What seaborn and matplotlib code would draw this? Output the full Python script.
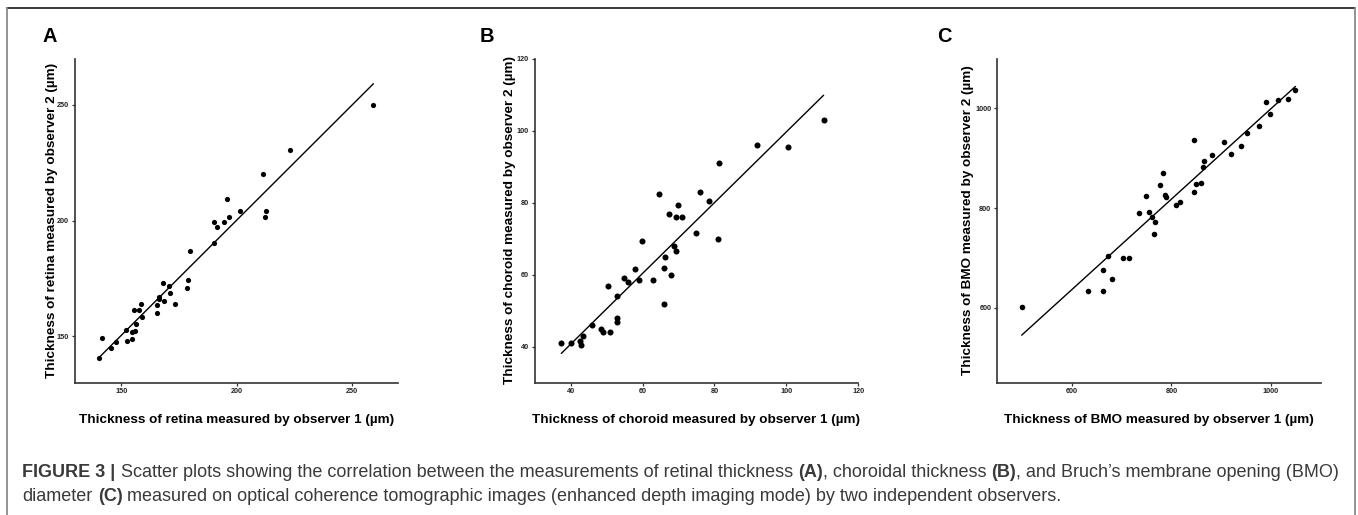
import numpy as np
import matplotlib
matplotlib.use("Agg")
import matplotlib.pyplot as plt
from matplotlib.lines import Line2D
import seaborn as sns

# ---------------- data ----------------
retina_obs1 = [140.6, 141.6, 145.5, 147.6, 152.2, 152.6, 154.6, 154.6, 156.1, 155.6,
               157.5, 156.5, 158.6, 159.1, 165.4, 165.6, 166.4, 166.4, 168.4, 168.0,
               170.6, 171.2, 173.5, 178.7, 179.1, 179.7, 190.1, 190.2, 191.6, 194.7,
               196.7, 195.7, 201.6, 211.5, 212.1, 212.5, 223.1, 259.2]
retina_obs2 = [140.8, 149.3, 144.8, 147.4, 152.7, 147.8, 151.9, 148.7, 152.3, 161.2,
               161.2, 155.3, 163.8, 158.4, 163.3, 160.2, 167.1, 165.9, 165.1, 172.8,
               171.8, 168.7, 163.8, 170.9, 174.4, 186.7, 190.3, 199.3, 197.3, 199.3,
               201.7, 209.2, 204.3, 220.3, 201.3, 204.3, 230.4, 249.9]

choroid_obs1 = [37.4, 40.0, 42.5, 43.0, 43.4, 45.9, 48.4, 48.9, 50.9, 50.5,
                53.0, 53.0, 53.0, 54.9, 55.9, 58.0, 59.0, 59.9, 63.0, 64.5,
                66.0, 66.0, 66.4, 67.4, 67.9, 68.9, 69.4, 69.4, 69.9, 70.9,
                74.9, 76.0, 78.5, 81.0, 81.4, 91.9, 100.4, 110.4]
choroid_obs2 = [40.9, 40.9, 41.5, 40.5, 43.0, 46.0, 45.0, 44.0, 44.0, 56.9,
                54.0, 48.0, 46.9, 59.0, 58.0, 61.5, 58.4, 69.4, 58.4, 82.4,
                61.9, 51.9, 64.9, 76.9, 60.0, 68.0, 75.9, 66.5, 79.4, 75.9,
                71.5, 83.0, 80.5, 70.0, 90.9, 95.9, 95.5, 103.0]

bmo_obs1 = [499.0, 631.6, 662.6, 662.6, 672.1, 680.8, 701.7, 714.5, 734.0, 748.8,
            755.6, 761.6, 764.3, 767.7, 777.1, 783.8, 787.9, 789.9, 810.1, 816.8,
            844.4, 844.4, 849.8, 859.3, 863.3, 864.6, 881.5, 906.4, 919.9, 940.7,
            951.5, 975.8, 989.9, 997.3, 1014.8, 1034.3, 1049.2]
bmo_obs2 = [602.0, 634.2, 675.8, 634.2, 703.4, 658.4, 700.7, 700.7, 789.9, 823.5,
            792.0, 781.2, 748.3, 771.8, 846.3, 870.5, 826.8, 822.1, 806.0, 812.8,
            936.9, 832.2, 848.3, 851.0, 882.6, 894.6, 907.4, 932.9, 908.1, 924.8,
            950.3, 963.8, 1012.1, 988.6, 1016.1, 1018.8, 1037.6]

panel_letters = ["A", "B", "C"]
x_labels = ["Thickness of retina measured by observer 1 (\u00b5m)",
            "Thickness of choroid measured by observer 1 (\u00b5m)",
            "Thickness of BMO measured by observer 1 (\u00b5m)"]
y_labels = ["Thickness of retina measured by observer 2 (\u00b5m)",
            "Thickness of choroid measured by observer 2 (\u00b5m)",
            "Thickness of BMO measured by observer 2 (\u00b5m)"]
x_ticks = [[150, 200, 250], [40, 60, 80, 100, 120], [600, 800, 1000]]
y_ticks = [[150, 200, 250], [40, 60, 80, 100, 120], [600, 800, 1000]]
limits = [(130, 270), (30, 120), (450, 1100)]

# ---------------- style ----------------
sns.set_style("ticks")
plt.rcParams["font.family"] = ["Liberation Sans", "DejaVu Sans"]

W, H = 1358, 515
fig = plt.figure(figsize=(W / 100, H / 100), dpi=100)
fig.patch.set_facecolor("white")

ax_left_px = [75, 534.7, 997.3]
ax_w_px = 323.4
ax_top_px = 58.5
ax_bot_px = 382.5
letter_x_px = [42.7, 480, 937]
ylab_off_px = [20, 21.4, 26.3]
marker_s = [14, 19, 16]

datasets = [(retina_obs1, retina_obs2), (choroid_obs1, choroid_obs2), (bmo_obs1, bmo_obs2)]
spine_col = "#333333"

for i, (xs, ys) in enumerate(datasets):
    ax = fig.add_axes([ax_left_px[i] / W, 1 - ax_bot_px / H, ax_w_px / W, (ax_bot_px - ax_top_px) / H])
    sns.regplot(x=np.array(xs), y=np.array(ys), ax=ax, ci=None, color="black",
                scatter_kws={"s": marker_s[i], "linewidths": 0, "alpha": 1},
                line_kws={"lw": 1.0, "color": "black"})
    ax.set_xlim(*limits[i])
    ax.set_ylim(*limits[i])
    ax.set_xticks(x_ticks[i])
    ax.set_yticks(y_ticks[i])
    sns.despine(ax=ax)
    for s in ["left", "bottom"]:
        ax.spines[s].set_linewidth(1.2)
        ax.spines[s].set_color(spine_col)
    ax.tick_params(labelsize=5.2, length=2.5, width=0.9, pad=1.8, color=spine_col, labelcolor="#222222")
    for lbl in ax.get_xticklabels() + ax.get_yticklabels():
        lbl.set_fontweight("bold")
    ax.set_xlabel(x_labels[i], fontsize=9.7, fontweight="bold", color="black")
    ax.set_ylabel(y_labels[i], fontsize=9.7, fontweight="bold", color="black")
    ax.xaxis.label.set_va("baseline")
    ax.yaxis.label.set_va("baseline")
    ax_h_px = ax_bot_px - ax_top_px
    ax.xaxis.set_label_coords(0.5, -(423 - ax_bot_px) / ax_h_px)
    ax.yaxis.set_label_coords(-ylab_off_px[i] / ax_w_px, 0.5)
    fig.text(letter_x_px[i] / W, 1 - 41.7 / H, panel_letters[i], fontsize=14.4,
             fontweight="bold", ha="left", va="baseline", color="black")

# frame lines
fig.add_artist(Line2D([7 / W, 1355 / W], [1 - 8 / H, 1 - 8 / H], transform=fig.transFigure,
                      color="#2a2a2a", lw=1.3))
fig.add_artist(Line2D([7 / W, 7 / W], [0, 1 - 8 / H], transform=fig.transFigure,
                      color="#8a8a8a", lw=1.3))
fig.add_artist(Line2D([1355 / W, 1355 / W], [0, 1 - 8 / H], transform=fig.transFigure,
                      color="#8a8a8a", lw=1.3))

# caption with mixed weights
cap_size = 13.0
cap_col = "#3a3a3a"
line1 = [("FIGURE 3 |", "bold"),
         ("Scatter plots showing the correlation between the measurements of retinal thickness", "normal"),
         ("(A)", "bold"), (", choroidal thickness", "normal"), ("(B)", "bold"),
         (", and Bruch\u2019s membrane opening (BMO)", "normal")]
line2 = [("diameter", "normal"), ("(C)", "bold"),
         ("measured on optical coherence tomographic images (enhanced depth imaging mode) by two independent observers.", "normal")]
space1 = [False, True, True, False, True, False]
space2 = [False, True, True]

renderer = fig.canvas.get_renderer()


def text_w(s, weight):
    t = fig.text(0, 0, s, fontsize=cap_size, fontweight=weight)
    w = t.get_window_extent(renderer=renderer).width
    t.remove()
    return w


sp_w = text_w("x x", "normal") - text_w("xx", "normal")


def draw_line(segs, spaces, x0, y_base):
    x = x0
    for (s, wgt), sp in zip(segs, spaces):
        if sp:
            x += sp_w
        t = fig.text(x / W, 1 - y_base / H, s, fontsize=cap_size, fontweight=wgt,
                     color=cap_col, ha="left", va="baseline")
        x = t.get_window_extent(renderer=renderer).x1


draw_line(line1, space1, 22.5, 476.7)
draw_line(line2, space2, 22.5, 500.7)

fig.savefig("out.png", dpi=100, facecolor="white")
